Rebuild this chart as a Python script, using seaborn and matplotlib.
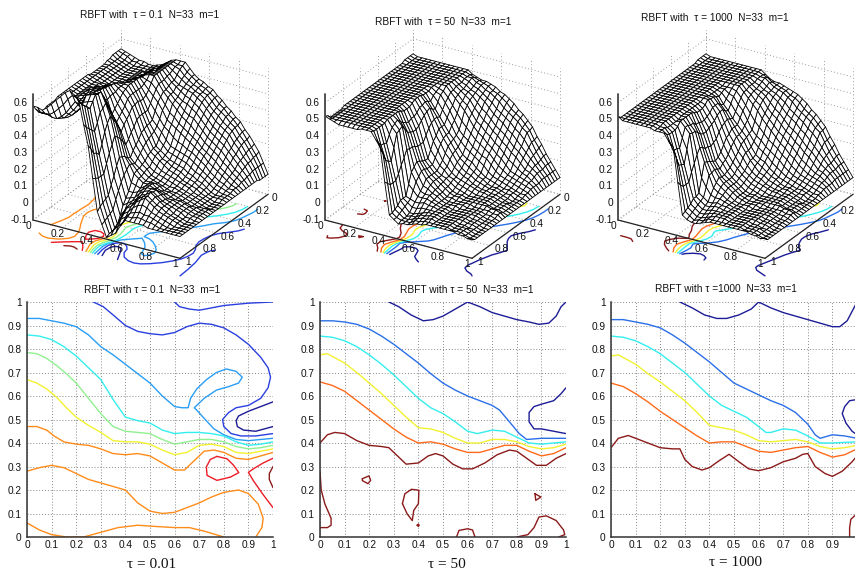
import numpy as np
import matplotlib
matplotlib.use("Agg")
import matplotlib.pyplot as plt
import seaborn as sns
from mpl_toolkits.mplot3d import proj3d

sns.set_theme(style="white")
plt.rcParams["font.family"] = ["Liberation Sans", "DejaVu Sans"]

NAVY, BLUE, SKY, CYAN, GREEN = "#1c1c96", "#2a3fe0", "#2a9df4", "#33eeee", "#90f090"
YELLOW, ORANGE, RED, DARK = "#f2f230", "#ff8c1a", "#ee1c25", "#8b1a1a"
ORANGE2, BLUE2 = "#ff6a1a", "#2a6fe8"

GRID_AXIS = [i / 32 for i in range(33)]

# height of each surface in hundredths: rows = vertical contour axis, columns = horizontal contour axis
Z_TAU_01 = [
[54,54,54,54,53,53,52,52,52,52,52,52,53,53,53,53,53,53,53,53,53,53,53,53,52,52,52,52,51,51,52,55,58],
[53,53,52,52,52,52,52,52,52,52,52,52,52,52,52,52,52,52,52,52,52,52,52,52,52,52,51,51,51,51,52,54,58],
[52,52,51,51,51,51,51,51,51,51,51,51,51,51,51,51,51,51,51,51,51,51,51,51,51,51,51,51,51,51,52,54,57],
[51,50,50,50,50,50,50,50,50,50,50,50,50,51,51,51,52,52,52,52,52,52,51,51,51,51,50,50,50,50,51,54,59],
[50,50,49,49,49,49,49,49,49,49,49,49,50,50,51,52,53,53,54,53,53,52,52,51,51,50,50,50,50,50,51,56,62],
[50,49,49,49,49,49,49,49,49,49,49,49,50,51,52,53,54,55,55,55,54,54,53,52,51,51,51,51,50,51,53,59,65],
[49,49,49,49,49,49,49,49,49,49,49,49,50,51,53,54,55,55,56,56,56,55,55,54,54,53,52,52,52,54,56,62,68],
[49,49,49,49,50,50,50,50,50,51,51,51,52,53,54,55,56,57,57,58,58,58,58,58,58,58,57,55,55,57,60,66,71],
[50,50,50,50,50,50,51,51,52,52,53,54,55,55,56,57,58,58,59,59,60,60,61,61,62,62,63,60,58,61,64,69,73],
[51,51,51,52,52,52,53,53,53,54,54,55,55,56,56,56,56,55,55,55,54,55,56,59,62,63,64,61,58,61,63,68,71],
[53,53,53,53,53,54,54,55,55,55,56,56,56,56,56,55,54,52,50,48,46,51,56,60,64,64,65,62,59,61,63,65,68],
[55,55,55,55,55,55,55,55,56,54,53,52,52,52,52,52,51,48,46,44,42,46,50,54,58,56,55,50,46,48,50,52,55],
[56,56,56,56,56,56,56,56,56,53,50,48,47,47,48,47,47,44,42,40,37,41,45,48,51,48,44,38,33,35,36,40,43],
[56,55,55,54,53,53,52,52,52,50,47,44,41,41,41,41,40,37,35,32,30,33,36,38,40,36,32,27,22,22,22,23,24],
[56,55,54,52,50,50,49,48,48,46,44,40,36,35,35,34,33,30,28,26,23,24,26,27,28,24,19,15,10,9,8,7,5],
[53,52,51,50,48,48,46,46,45,42,40,36,33,31,30,29,28,26,24,22,20,21,22,20,18,15,11,7,2,1,0,-1,-2],
[50,50,49,48,47,46,44,43,42,38,35,32,30,27,24,24,23,22,20,19,18,18,17,13,9,6,3,-2,-6,-7,-8,-8,-9],
[48,48,47,47,46,44,42,41,39,36,33,30,26,24,22,22,21,19,17,17,16,15,15,12,9,7,5,2,0,-2,-4,-5,-7],
[47,46,46,45,45,43,41,38,36,33,31,27,23,21,20,19,19,17,15,14,14,13,13,11,10,8,7,6,5,3,1,-2,-5],
[45,45,44,44,43,41,39,36,34,31,29,25,22,20,18,18,17,15,14,13,13,13,13,13,12,11,9,8,7,5,3,1,0],
[44,43,43,42,41,39,37,35,32,29,27,24,21,19,17,16,15,14,13,12,12,13,14,14,14,13,12,11,10,8,6,5,4],
[41,41,40,39,38,36,34,32,29,27,25,22,20,18,16,15,14,13,12,11,11,12,12,13,14,14,13,13,12,10,7,5,4],
[39,38,37,36,35,33,31,29,27,25,23,21,19,17,15,14,13,12,11,10,10,10,11,12,14,14,15,14,14,11,8,6,4],
[36,36,35,34,32,30,28,26,24,22,21,19,17,15,13,12,11,11,10,10,9,10,10,11,12,12,13,12,12,10,7,6,4],
[34,33,33,31,30,28,26,24,22,20,19,17,15,13,12,11,10,10,9,9,9,9,9,9,10,10,11,10,10,8,7,5,4],
[31,31,30,29,28,26,24,22,20,18,16,15,13,12,10,10,9,9,8,8,8,8,8,9,9,9,9,9,8,7,6,5,3],
[29,28,28,27,26,24,22,20,18,16,14,12,11,10,9,8,8,7,7,7,7,7,8,8,8,8,8,7,7,6,5,4,3],
[25,25,24,23,22,20,19,17,15,13,12,10,9,8,7,7,6,6,6,6,6,6,7,7,7,7,6,6,6,5,4,3,3],
[22,21,21,20,19,17,16,14,13,11,10,8,7,6,5,5,5,5,5,5,5,5,6,6,6,6,5,5,5,4,3,3,3],
[18,17,17,16,15,14,13,11,10,9,8,7,6,5,4,4,4,4,4,4,4,5,5,5,5,4,4,4,4,3,3,3,3],
[14,13,13,12,12,11,10,9,8,7,6,5,5,4,4,4,3,3,3,3,4,4,4,4,4,4,3,3,3,3,3,3,3],
[8,8,8,8,8,7,7,6,6,5,5,5,4,4,4,4,3,3,3,3,4,4,4,4,4,3,3,3,3,3,3,3,3],
[2,2,2,2,3,3,3,3,3,3,3,3,3,3,3,3,3,3,3,3,3,3,3,3,3,3,3,3,3,3,3,3,3],
]
Z_TAU_50 = [
[51]*4+[50]*22+[49]*5+[51,52],
[50]*32+[51],
[50]*33,
[50]*32+[49],
[50]*32+[49],
[50]*32+[49],
[50]*32+[49],
[50]*32+[49],
[50]*33,
[50]*33,
[50,50,50,50,50,50,50,50,50,50,50,49,49,49,50,50,50,49,48,48,48,49,50,50,50,50,50,49,49,49,49,49,50],
[50,50,50,50,50,50,50,50,50,49,48,47,45,46,47,46,46,44,43,43,42,43,44,46,48,47,46,43,39,40,40,43,46],
[50,50,50,50,50,50,50,50,50,48,47,44,41,42,44,43,42,40,38,37,37,38,39,42,45,44,43,36,29,30,32,37,42],
[48,49,49,49,48,48,48,47,47,45,43,40,37,38,38,37,35,32,29,29,29,30,31,31,32,28,25,21,18,18,18,20,22],
[47,48,49,48,47,46,46,45,44,41,39,36,33,33,33,30,28,24,20,20,21,22,23,21,19,13,7,7,7,5,4,3,3],
[46,47,47,46,45,45,44,42,41,37,34,32,29,29,28,26,23,20,17,17,17,18,18,16,14,10,6,5,4,3,2,1,1],
[46,46,46,45,44,43,42,40,38,33,29,27,26,25,24,21,18,16,14,14,14,14,14,11,9,7,5,3,1,0,0,0,-1],
[45,45,44,43,42,40,38,36,34,30,26,24,22,21,20,18,15,14,12,12,12,12,11,10,8,7,5,3,1,1,0,0,0],
[44,43,43,41,40,37,35,32,30,27,24,21,18,17,16,14,12,11,11,10,10,9,9,8,8,7,6,4,2,1,1,0,0],
[42,42,41,39,37,35,32,30,27,24,21,19,16,15,13,12,10,10,9,8,8,7,7,7,6,6,5,4,3,3,2,2,1],
[41,40,39,36,34,32,30,27,25,22,19,17,15,13,11,10,9,8,7,6,6,5,5,5,5,5,5,4,4,3,3,2,2],
[39,38,36,34,32,29,27,25,22,20,17,15,12,11,10,9,8,7,6,5,5,5,4,4,4,4,4,4,4,4,3,3,2],
[37,35,34,32,30,27,25,22,20,18,16,13,10,9,8,7,7,6,5,5,5,4,4,4,4,4,4,4,4,4,4,3,3],
[34,33,32,30,27,25,22,20,17,15,13,10,8,8,7,6,6,5,4,4,4,4,4,4,3,3,3,3,3,3,3,3,3],
[32,31,30,27,25,22,20,17,15,12,10,8,7,6,6,5,5,4,4,4,4,4,4,3,3,3,3,3,3,3,3,3,3],
[29,28,27,25,22,19,17,14,12,10,8,7,6,5,5,5,5,4,4,4,4,4,3,3,3,3,3,3,3,3,3,3,3],
[26,25,25,22,19,17,15,12,9,8,7,6,5,5,5,4,4,4,4,4,4,3,3,3,3,3,3,3,3,3,3,3,3],
[21,20,20,18,16,14,12,10,8,7,6,5,4,4,4,4,4,4,4,4,4,3,3,3,3,3,3,3,2,2,2,2,3],
[17,16,15,14,13,11,9,8,7,6,5,4,4,3,3,3,3,3,3,3,4,3,3,3,3,2,2,2,2,2,2,2,3],
[12,12,11,10,10,9,8,7,6,5,4,3,3,3,2,2,2,2,2,2,3,3,2,2,2,2,2,2,1,2,2,2,2],
[8,8,8,7,7,7,6,5,5,4,3,2,2,1,1,1,2,2,2,2,3,2,2,1,1,1,1,1,1,1,1,1,2],
[4,4,4,4,4,4,3,3,3,3,2,2,1,1,1,1,1,1,1,1,2,2,1,1,1,1,0,0,0,0,0,0,1],
[0]*32+[1],
]
Z_TAU_1000 = [
[51]*4+[50]*28+[52],
[50]*33,
[50]*33,
[50]*33,
[50]*33,
[50]*33,
[50]*33,
[50]*33,
[50]*30+[49]*3,
[50]*9+[49,49,49,49,49,49,50,50,49,49,49,49,49,49,49,49,48,48,48,48,48,49,49,49],
[50,50,50,50,50,50,50,50,50,49,49,48,47,48,49,49,50,48,47,47,47,48,49,49,49,49,49,47,46,46,46,47,49],
[50,50,50,50,50,50,50,50,50,49,47,45,43,44,46,46,46,44,43,42,42,43,43,45,45,46,46,41,36,37,37,41,45],
[50,50,50,50,50,50,50,50,50,48,46,43,40,41,43,43,42,40,39,38,37,37,38,40,42,42,43,35,27,28,29,35,42],
[48,49,49,49,48,48,48,47,47,45,42,39,36,37,38,37,36,34,31,30,29,30,30,32,33,30,26,22,17,17,17,19,22],
[46,48,49,48,47,46,46,45,44,41,39,36,33,33,33,31,30,27,24,22,21,22,23,24,25,17,9,8,8,6,5,4,3],
[45,46,47,46,45,45,44,42,41,37,34,32,30,29,29,27,25,22,20,19,17,18,19,18,18,12,7,6,5,4,3,2,1],
[45,45,45,44,44,43,42,40,38,33,29,28,27,26,25,22,20,18,16,15,14,14,15,13,11,8,5,4,3,2,1,0,0],
[44,44,44,43,42,40,38,36,34,30,26,24,22,21,21,19,16,15,13,12,12,12,12,11,9,7,5,4,3,2,1,1,0],
[43,43,43,41,40,37,35,33,31,27,24,21,18,17,17,15,13,12,11,10,10,10,10,9,8,7,6,5,4,3,2,1,1],
[42,41,41,39,37,35,33,30,28,24,21,19,16,15,14,12,11,10,9,8,8,8,8,7,6,6,5,5,4,4,3,3,2],
[41,40,39,36,34,32,30,27,25,22,19,17,15,13,11,10,9,8,7,6,6,6,6,5,5,5,5,4,4,4,4,3,3],
[39,38,36,34,32,29,27,25,22,20,17,14,12,11,10,9,8,7,6,5,5,5,5,4,4,4,4,4,4,4,4,3,3],
[37,35,34,32,30,27,25,22,20,17,15,12,10,9,8,7,7,6,5,5,5,4,4,4,4,4,4,4,4,4,4,3,3],
[34,33,32,30,27,25,22,20,17,15,12,10,8,8,7,6,6,5,4,4,4,4,4,4,3,3,3,3,3,3,3,3,3],
[32,31,30,27,25,22,20,17,15,12,10,8,7,6,6,5,5,4,4,4,4,4,4,3,3,3,3,3,3,3,3,3,3],
[29,28,27,25,22,19,17,14,12,10,8,7,6,5,5,5,5,4,4,4,4,4,3,3,3,3,3,3,3,3,3,3,3],
[26,25,25,22,19,17,15,12,10,8,7,6,5,5,5,4,4,4,4,4,4,3,3,3,3,3,3,3,3,3,3,3,3],
[21,20,20,18,16,14,12,10,8,7,6,5,4,4,4,4,4,4,4,4,4,3,3,3,3,3,3,3,2,2,2,2,3],
[17,16,15,14,13,11,9,8,7,6,5,4,4,3,3,3,3,3,3,3,4,3,3,3,3,2,2,2,2,2,2,2,3],
[12,12,11,10,10,9,8,7,6,5,4,3,3,3,2,2,2,2,2,2,3,3,2,2,2,2,2,2,1,2,2,2,2],
[8,8,8,7,7,7,6,5,5,4,3,2,2,1,1,1,2,2,2,2,3,2,2,1,1,1,1,1,1,1,1,1,2],
[4,4,4,4,4,4,3,3,3,3,2,2,1,1,1,1,1,1,1,1,2,2,1,1,1,1,0,0,0,0,0,0,1],
[0]*32+[2],
]

# contour lines, tau = 0.1
A_NAVY = [(1,.575),(.95,.555),(.9,.535),(.86,.515),(.85,.495),(.855,.47),(.88,.455),(.93,.45),(1,.47)]
A_BLUE = [(.27,1),(.31,.98),(.35,.945),(.4,.9),(.45,.875),(.5,.865),(.55,.86),(.6,.87),(.65,.895),(.7,.91),(.75,.905),(.8,.89),(.85,.86),(.9,.82),(.95,.765),(.98,.72),(.99,.68),(.98,.635),(.95,.59),(.9,.56),(.85,.55),(.82,.53),(.795,.5),(.8,.47),(.83,.44),(.87,.43),(.93,.43),(1,.44)]
A_BLUE_TOP = [(.6,1),(.62,.98),(.66,.97),(.7,.965),(.75,.975),(.8,.985),(.9,.995),(1,1)]
A_SKY = [(0,.93),(.05,.93),(.1,.92),(.15,.91),(.2,.895),(.25,.86),(.3,.81),(.35,.775),(.4,.735),(.45,.695),(.5,.655),(.55,.6),(.6,.555),(.63,.55),(.655,.55),(.665,.59),(.69,.63),(.73,.67),(.77,.7),(.81,.715),(.85,.705),(.875,.68),(.86,.655),(.82,.64),(.77,.625),(.72,.59),(.68,.55),(.69,.54),(.72,.505),(.76,.46),(.8,.435),(.85,.415),(.9,.41),(1,.42)]
A_CYAN = [(0,.86),(.05,.855),(.1,.84),(.15,.81),(.2,.77),(.25,.72),(.3,.67),(.35,.585),(.4,.51),(.45,.495),(.5,.485),(.55,.455),(.6,.44),(.65,.445),(.7,.445),(.75,.44),(.8,.43),(.85,.405),(.9,.39),(.95,.395),(1,.405)]
A_GREEN = [(0,.785),(.04,.78),(.08,.76),(.12,.73),(.16,.695),(.2,.655),(.25,.59),(.3,.525),(.35,.47),(.4,.45),(.45,.445),(.5,.44),(.55,.415),(.6,.395),(.65,.405),(.7,.415),(.75,.415),(.8,.405),(.85,.385),(.9,.375),(.95,.38),(1,.39)]
A_YELLOW = [(0,.67),(.04,.655),(.08,.63),(.12,.595),(.16,.55),(.2,.51),(.25,.475),(.3,.445),(.35,.41),(.4,.405),(.45,.405),(.5,.395),(.55,.37),(.6,.35),(.65,.36),(.7,.39),(.75,.395),(.8,.385),(.85,.36),(.9,.355),(.95,.365),(1,.375)]
A_ORANGE_1 = [(0,.47),(.04,.47),(.08,.455),(.11,.43),(.15,.405),(.2,.395),(.25,.39),(.3,.375),(.35,.355),(.4,.35),(.45,.355),(.5,.345),(.55,.315),(.6,.285),(.64,.285),(.68,.325),(.72,.365),(.76,.37),(.8,.36),(.85,.335),(.9,.33),(.95,.345),(1,.36)]
A_ORANGE_2 = [(0,.28),(.05,.295),(.1,.305),(.15,.295),(.2,.27),(.25,.245),(.3,.23),(.35,.215),(.4,.2),(.45,.145),(.5,.11),(.55,.1),(.6,.105),(.65,.125),(.7,.145),(.75,.17),(.8,.19),(.86,.2),(.9,.185),(.94,.14),(.96,.08),(.955,.04),(.93,0)]
A_ORANGE_3 = [(0,.06),(.05,.03),(.1,.01),(.16,0),(.23,0),(.3,.02),(.37,.04),(.45,.05),(.52,.045),(.6,.04),(.66,.04),(.72,.025),(.8,0)]
A_RED_1 = [(.772,.343),(.813,.333),(.84,.305),(.861,.274),(.827,.255),(.772,.241),(.732,.262),(.729,.298),(.745,.33),(.772,.343)]
A_RED_2 = [(1,.335),(.96,.315),(.92,.29),(.9,.275),(.92,.24),(.96,.18),(1,.125)]
A_DARK = [(1,.3),(.985,.27),(.985,.245),(1,.21)]
CURVES_A = [(A_NAVY,NAVY),(A_BLUE,BLUE),(A_BLUE_TOP,BLUE),(A_SKY,SKY),(A_CYAN,CYAN),(A_GREEN,GREEN),(A_YELLOW,YELLOW),
            (A_ORANGE_1,ORANGE),(A_ORANGE_2,ORANGE),(A_ORANGE_3,ORANGE),(A_RED_1,RED),(A_RED_2,RED),(A_DARK,DARK)]

# contour lines, tau = 50
B_NAVY_1 = [(.28,1),(.32,.98),(.37,.945),(.42,.92),(.46,.925),(.5,.94),(.55,.97),(.6,1),(.65,.98),(.7,.955),(.75,.94),(.8,.925),(.85,.915),(.89,.905),(.93,.91),(.96,.94),(.98,.98),(1,1)]
B_NAVY_2 = [(1,.635),(.98,.61),(.95,.58),(.9,.565),(.87,.555),(.85,.53),(.85,.49),(.87,.46),(.9,.46),(.95,.45),(1,.44)]
B_BLUE = [(0,.92),(.05,.92),(.1,.915),(.15,.905),(.2,.885),(.25,.855),(.3,.82),(.35,.78),(.4,.74),(.45,.695),(.5,.655),(.55,.625),(.6,.6),(.65,.58),(.7,.56),(.73,.54),(.77,.49),(.81,.44),(.84,.415),(.9,.42),(1,.42)]
B_CYAN = [(0,.855),(.05,.85),(.1,.835),(.15,.81),(.2,.775),(.25,.735),(.3,.69),(.35,.64),(.4,.59),(.45,.55),(.5,.525),(.55,.49),(.6,.45),(.64,.44),(.7,.455),(.75,.45),(.8,.425),(.85,.4),(.9,.395),(.95,.4),(1,.405)]
B_YELLOW = [(0,.775),(.03,.78),(.1,.74),(.15,.7),(.2,.655),(.25,.61),(.3,.56),(.35,.51),(.4,.465),(.45,.46),(.5,.445),(.55,.42),(.6,.4),(.65,.4),(.7,.415),(.75,.415),(.8,.405),(.85,.385),(.9,.375),(.95,.38),(1,.395)]
B_ORANGE = [(0,.66),(.05,.645),(.1,.62),(.15,.58),(.2,.54),(.25,.5),(.3,.46),(.35,.425),(.4,.4),(.45,.405),(.5,.395),(.55,.375),(.6,.36),(.65,.36),(.7,.375),(.75,.39),(.8,.39),(.85,.365),(.9,.345),(.95,.355),(1,.38)]
B_DARK_1 = [(0,.4),(.03,.435),(.06,.445),(.1,.44),(.15,.41),(.2,.39),(.25,.385),(.28,.38),(.32,.34),(.35,.31),(.4,.315),(.44,.345),(.47,.355),(.5,.345),(.54,.31),(.58,.29),(.62,.29),(.67,.315),(.72,.35),(.77,.37),(.8,.365),(.84,.335),(.88,.305),(.92,.305),(.96,.335),(1,.355)]
B_DARK_2 = [(0,.28),(.005,.2),(.02,.14),(.045,.08),(.045,.05),(.03,.04),(0,.04)]
B_DARK_3 = [(.172,.248),(.199,.26),(.206,.241),(.195,.227),(.172,.24),(.172,.248)]
B_DARK_4 = [(.335,.142),(.345,.184),(.372,.203),(.402,.199),(.4,.142),(.381,.113),(.375,.07),(.354,.099),(.335,.142)]
B_DARK_5 = [(.395,.05),(.4,.055),(.403,.05),(.4,.045),(.395,.05)]
B_DARK_6 = [(.555,0),(.565,.028),(.6,.035),(.62,.03),(.63,0)]
B_DARK_7 = [(.874,.184),(.898,.17),(.877,.156),(.874,.184)]
B_DARK_8 = [(.8,0),(.845,.01),(.87,.04),(.89,.085),(.92,.09),(.96,.07),(.99,.03),(.995,.01),(.97,0)]
CURVES_B = [(B_NAVY_1,NAVY),(B_NAVY_2,NAVY),(B_BLUE,BLUE2),(B_CYAN,CYAN),(B_YELLOW,YELLOW),(B_ORANGE,ORANGE2),
            (B_DARK_1,DARK),(B_DARK_2,DARK),(B_DARK_3,DARK),(B_DARK_4,DARK),(B_DARK_5,DARK),(B_DARK_6,DARK),(B_DARK_7,DARK),(B_DARK_8,DARK)]

# contour lines, tau = 1000
C_NAVY_1 = [(.28,1),(.33,.975),(.38,.945),(.43,.93),(.47,.93),(.52,.945),(.57,.97),(.6,1),(.65,.975),(.7,.955),(.75,.94),(.8,.925),(.85,.91),(.9,.895),(.93,.895),(.96,.92),(.98,.96),(1,1)]
C_NAVY_2 = [(1,.585),(.97,.58),(.95,.555),(.94,.525),(.955,.485),(.98,.45),(1,.435)]
C_BLUE = [(0,.925),(.05,.925),(.1,.915),(.15,.905),(.2,.89),(.25,.86),(.3,.825),(.35,.785),(.4,.745),(.45,.7),(.5,.655),(.55,.63),(.6,.605),(.65,.58),(.7,.56),(.75,.53),(.8,.48),(.83,.435),(.85,.42),(.9,.435),(.95,.43),(1,.42)]
C_CYAN = [(0,.855),(.05,.85),(.1,.835),(.15,.81),(.2,.78),(.25,.74),(.3,.7),(.35,.65),(.4,.6),(.45,.56),(.5,.535),(.55,.51),(.6,.47),(.63,.445),(.65,.445),(.7,.46),(.75,.455),(.8,.43),(.85,.4),(.9,.4),(1,.405)]
C_YELLOW = [(0,.77),(.03,.775),(.1,.735),(.15,.695),(.2,.66),(.25,.62),(.3,.58),(.35,.53),(.4,.475),(.45,.465),(.5,.455),(.55,.435),(.6,.41),(.65,.405),(.7,.41),(.75,.415),(.8,.405),(.85,.385),(.9,.375),(.95,.38),(1,.39)]
C_ORANGE = [(0,.655),(.05,.64),(.1,.61),(.15,.575),(.2,.535),(.25,.5),(.3,.465),(.35,.43),(.4,.4),(.45,.405),(.5,.405),(.55,.385),(.6,.365),(.65,.36),(.7,.37),(.75,.38),(.8,.385),(.85,.36),(.9,.34),(.95,.35),(1,.375)]
C_DARK_1 = [(0,.38),(.03,.42),(.07,.432),(.1,.42),(.15,.4),(.2,.38),(.25,.375),(.28,.375),(.3,.33),(.33,.3),(.37,.285),(.4,.295),(.44,.325),(.48,.352),(.52,.32),(.56,.29),(.6,.282),(.65,.295),(.7,.32),(.75,.335),(.78,.352),(.8,.355),(.83,.3),(.87,.27),(.9,.258),(.94,.28),(.98,.32),(1,.345)]
C_DARK_2 = [(1,.1),(.975,.075),(.97,.04),(.97,0)]
CURVES_C = [(C_NAVY_1,NAVY),(C_NAVY_2,NAVY),(C_BLUE,BLUE2),(C_CYAN,CYAN),(C_YELLOW,YELLOW),(C_ORANGE,ORANGE2),(C_DARK_1,DARK),(C_DARK_2,DARK)]

TITLES_TOP = ["RBFT with  \u03c4 = 0.1  N=33  m=1", "RBFT with  \u03c4 = 50  N=33  m=1", "RBFT with  \u03c4 = 1000  N=33  m=1"]
TITLES_LOW = ["RBFT with \u03c4 = 0.1  N=33  m=1", "RBFT with \u03c4 = 50  N=33  m=1", "RBFT with \u03c4 =1000  N=33  m=1"]
CAPTIONS = ["\u03c4 = 0.01", "\u03c4 = 50", "\u03c4 = 1000"]
TICKS_2D = [i / 10 for i in range(11)]
TICKS_3D = [0.2, 0.4, 0.6, 0.8, 1.0]
ZTICKS = [-0.1, 0, 0.1, 0.2, 0.3, 0.4, 0.5, 0.6]


def lab(v):
    return "0" if v == 0 else ("1" if v == 1 else f"{v:g}")


def fit(rows):
    return np.array([(list(r) + [r[-1]] * 33)[:33] for r in rows], dtype=float) / 100


W, H = 855, 572
fig = plt.figure(figsize=(W / 100, H / 100), dpi=100, facecolor="white")
TXT = 7.3
AX = "#222222"

# ---- lower contour panels
for k, (x0, curves) in enumerate(zip([27, 320, 611], [CURVES_A, CURVES_B, CURVES_C])):
    ax = fig.add_axes([x0 / W, 1 - 537 / H, 246 / W, 235 / H])
    for pts, col in curves:
        xs = [p[0] for p in pts]
        ys = [p[1] for p in pts]
        sns.lineplot(x=xs, y=ys, sort=False, estimator=None, color=col, lw=1.0, ax=ax, legend=False)
    ax.set_xlim(0, 1)
    ax.set_ylim(0, 1)
    xt = TICKS_2D[:-1] if k == 2 else TICKS_2D
    ax.set_xticks(xt, [lab(t) for t in xt])
    ax.set_yticks(TICKS_2D, [lab(t) for t in TICKS_2D])
    ax.tick_params(labelsize=TXT, length=2, width=.6, direction="in", pad=4, colors="#111111")
    ax.tick_params(axis="x", pad=2.5)
    ax.grid(True, ls=(0, (1, 2)), color="#888888", lw=.7)
    ax.set_axisbelow(True)
    ax.set_xlabel("")
    ax.set_ylabel("")
    for s in ("top", "right"):
        ax.spines[s].set_visible(False)
    for s in ("left", "bottom"):
        ax.spines[s].set_color("#333333")
        ax.spines[s].set_linewidth(1.1)

# ---- upper surface panels
for k, (Zp, curves, lx) in enumerate(zip([Z_TAU_01, Z_TAU_50, Z_TAU_1000], [CURVES_A, CURVES_B, CURVES_C], [33, 325, 618])):
    ax = fig.add_axes([(lx - 20) / W, 1 - 290 / H, 290 / W, 290 / H], projection="3d", computed_zorder=False)
    ax.patch.set_visible(False)
    ax.set_proj_type("ortho")
    ax.view_init(elev=25.8, azim=-59.1)
    zlo, zhi = -0.1, 0.655
    ax.set_xlim(0, 1)
    ax.set_ylim(0, 1)
    ax.set_zlim(zlo, zhi)
    ax.set_box_aspect((1, 1, 0.82), zoom=0.8)
    ax.set_axis_off()

    h = np.array(GRID_AXIS)
    v = np.array(GRID_AXIS)
    HH, VV = np.meshgrid(h, v)
    ZZ = fit(Zp)

    gs = dict(color="#9a9a9a", ls=(0, (1, 2.4)), lw=.7, zorder=1)
    for z in ZTICKS:
        ax.plot([0, 0], [0, 1], [z, z], **gs)
        ax.plot([0, 1], [1, 1], [z, z], **gs)
    for t in TICKS_3D + [0]:
        ax.plot([0, 0], [1 - t, 1 - t], [zlo, zhi], **gs)
        ax.plot([t, t], [1, 1], [zlo, zhi], **gs)
        ax.plot([t, t], [0, 1], [zlo, zlo], **gs)
        ax.plot([0, 1], [1 - t, 1 - t], [zlo, zlo], **gs)

    for pts, col in curves:
        xs = np.array([p[0] for p in pts])
        ys = np.array([p[1] for p in pts])
        ax.plot(ys, 1 - xs, np.full_like(xs, -0.205, dtype=float), color=col, lw=1.0, zorder=2)

    ax.plot_surface(VV, 1 - HH, ZZ, rstride=1, cstride=1, color="white", edgecolor="black",
                    linewidth=.6, shade=False, zorder=3, antialiased=True)

    ls = dict(color=AX, lw=.9, zorder=4)
    ax.plot([0, 1], [0, 0], [zlo, zlo], **ls)
    ax.plot([1, 1], [0, 1], [zlo, zlo], **ls)
    ax.plot([0, 0], [0, 0], [zlo, zhi], color="#444444", lw=1.3, zorder=4)

    def disp(X, Y, Z):
        a, b, _c = proj3d.proj_transform(X, Y, Z, ax.get_proj())
        return ax.transData.transform((a, b))

    rx = lx + 235
    for _ in range(3):
        fig.canvas.draw()
        p0 = disp(0, 0, zlo)
        p1 = disp(1, 1, zlo)
        f = (rx - lx) / (p1[0] - p0[0])
        pos = ax.get_position()
        ax.set_position([pos.x0, pos.y0, pos.width * f, pos.height * f])
        fig.canvas.draw()
        p0 = disp(0, 0, zlo)
        dx = (lx - p0[0]) / W
        dy = ((H - 220) - p0[1]) / H
        pos = ax.get_position()
        ax.set_position([pos.x0 + dx, pos.y0 + dy, pos.width, pos.height])
    fig.canvas.draw()

    tk = dict(fontsize=TXT, color="#111111", ha="center", va="center")
    for t in [0] + TICKS_3D:
        a = disp(t, 0, zlo)
        fig.text((a[0] - 5) / W, (a[1] - 6) / H, lab(t), **tk)
        if k == 2 and t == 0:
            continue
        b = disp(1, 1 - t, zlo)
        off = 6 if t == 0 else (8 if t == 1 else 12)
        fig.text((b[0] + off) / W, (b[1] - 4) / H, lab(t), **tk)
    for z in ZTICKS:
        c = disp(0, 0, z)
        fig.text((c[0] - 5) / W, c[1] / H, lab(z), fontsize=TXT, color="#111111", ha="right", va="center")

# ---- texts
for t, (cx, cy) in zip(TITLES_TOP, [(150, 15), (443, 22), (715, 18)]):
    fig.text(cx / W, 1 - cy / H, t, fontsize=TXT, ha="center", va="center", color="#111111")
for t, (cx, cy) in zip(TITLES_LOW, [(152, 290), (467, 290), (726, 289)]):
    fig.text(cx / W, 1 - cy / H, t, fontsize=TXT, ha="center", va="center", color="#111111")
for t, (cx, cy) in zip(CAPTIONS, [(152, 565), (447, 564), (735, 563)]):
    fig.text(cx / W, 1 - cy / H, t, fontsize=11, ha="center", va="center", family="Liberation Serif", color="#111111")

fig.savefig("out.png", dpi=100, facecolor="white")
